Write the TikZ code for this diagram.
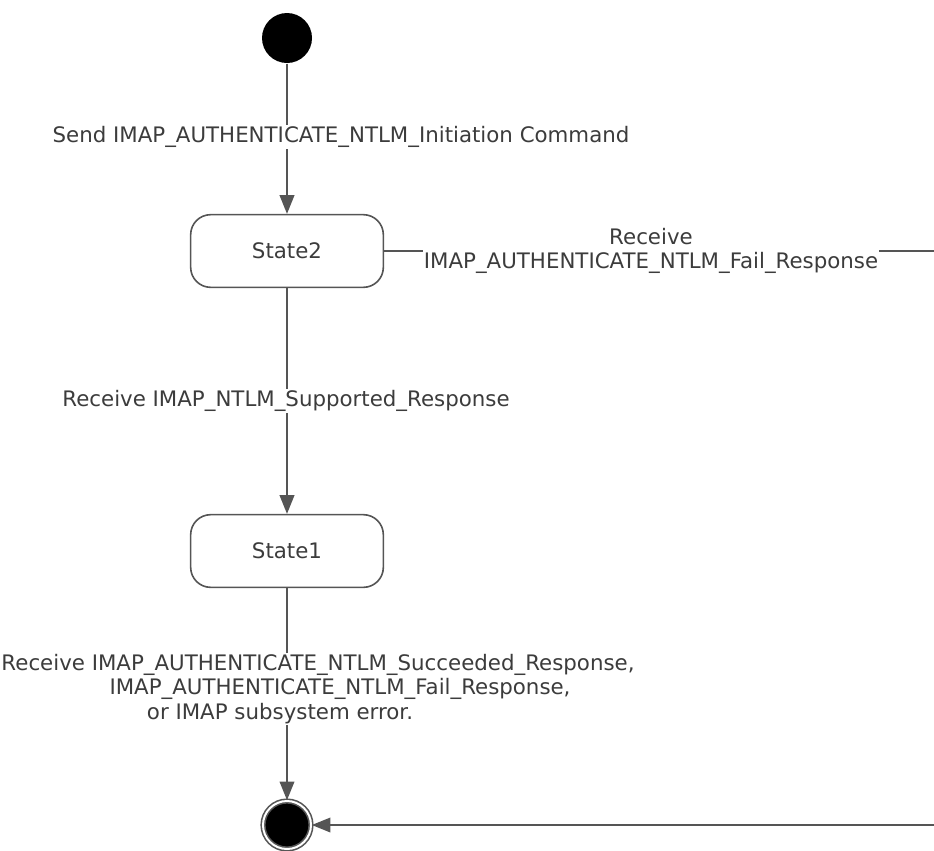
\documentclass[tikz,border=0pt]{standalone}
\usepackage{fontspec}
\setmainfont{DejaVu Sans}
\usetikzlibrary{arrows.meta}
\definecolor{lineGray}{RGB}{85,85,85}
\definecolor{textGray}{RGB}{60,60,60}
\tikzset{every picture/.style={line width=0.75pt}}

\begin{document}
\begin{tikzpicture}[x=0.75pt,y=0.75pt,yscale=-1,xscale=1,
  state/.style={draw=lineGray,line width=1.2pt,rounded corners=15pt,minimum width=144.5pt,minimum height=54.5pt,text=textGray,font=\fontsize{16}{18}\selectfont},
  initial/.style={circle,fill=black,inner sep=0pt,minimum size=37.5pt},
  final/.style={circle,draw=lineGray,line width=1.2pt,fill=black,double=white,double distance=1.5pt,inner sep=0pt,minimum size=36pt},
  trans/.style={draw=lineGray,line width=1.2pt,-{Triangle[length=14pt,width=11pt]}},
  lbl/.style={fill=white,inner sep=1pt,text=textGray,align=center,font=\fontsize{16}{18.2}\selectfont}]
\useasboundingbox (0,0) rectangle (934,850);

%Shape: Initial State
\node [initial] (start) at (287,38) {};
%Shape: Rounded Rectangle
\node [state] (s2) at (287,251) {State2};
%Shape: Rounded Rectangle
\node [state] (s1) at (287,551) {State1};
%Shape: Final State
\node [final] (end) at (287,825) {};
\coordinate (rtop) at (950,251);

%Straight Lines
\draw [trans] (start) -- (s2);
%Straight Lines
\draw [trans] (s2) -- (s1);
%Straight Lines
\draw [trans] (s1) -- (end);
%Straight Lines
\draw [trans] (s2.east) -- (rtop) |- (end);

% Text Node
\node [lbl] (l1) at (341,137) {Send IMAP\_AUTHENTICATE\_NTLM\_Initiation Command};
% Text Node
\node [lbl] (l2) at (651,251) {Receive\\IMAP\_AUTHENTICATE\_NTLM\_Fail\_Response};
% Text Node
\node [lbl] (l3) at (286,401) {Receive IMAP\_NTLM\_Supported\_Response};
% Text Node
\node [lbl] (l4) at (318,689) {Receive IMAP\_AUTHENTICATE\_NTLM\_Succeeded\_Response,\\\hspace*{33pt}IMAP\_AUTHENTICATE\_NTLM\_Fail\_Response,\\or IMAP subsystem error.\hspace*{57pt}};

\end{tikzpicture}
\end{document}
